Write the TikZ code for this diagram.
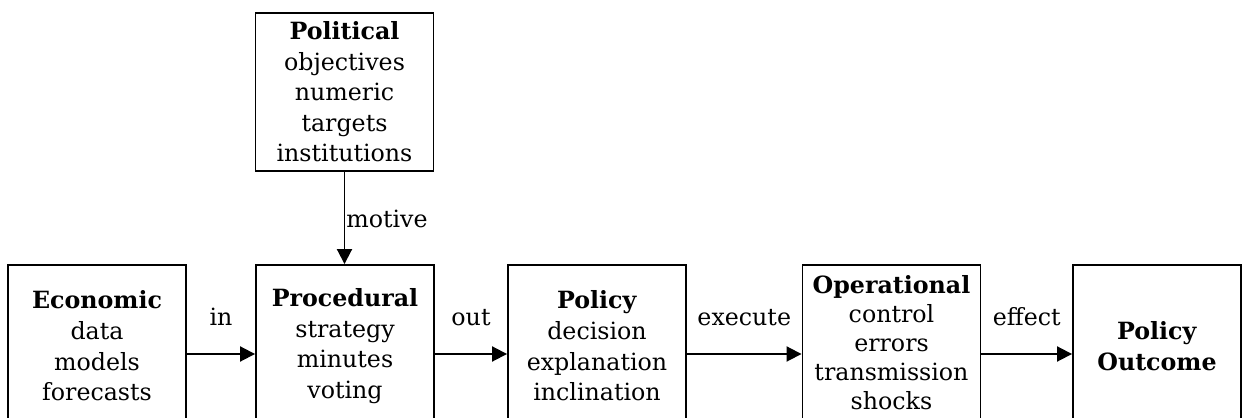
\documentclass[tikz,border=0pt]{standalone}
\usepackage{fontspec}
\setmainfont{DejaVu Serif}
\usetikzlibrary{arrows.meta}
\tikzset{
  stage/.style = {rectangle, draw, line width=1.1pt, align=center, inner sep=0pt, text width=3.4cm, minimum width=3.56cm, minimum height=3.24cm, font=\fontsize{13.5}{17.4}\selectfont},
  flow/.style = {-{Triangle[length=0.3cm,width=0.3cm]}, line width=1.1pt},
  flowlbl/.style = {midway, anchor=base, yshift=0.58cm, inner sep=0pt, font=\fontsize{13.5}{17.4}\selectfont}
}

\begin{document}
\begin{tikzpicture}[x=0.02cm, y=-0.02cm]
    \useasboundingbox (0,0) rectangle (1245,418);
    \clip (0,0) rectangle (1245,418);
    \node[stage, minimum height=3.16cm] (pol) at (344.5,92) {\textbf{Political}\\objectives\\numeric\\targets\\institutions};
    \node[stage] (econ) at (97,346) {\textbf{Economic}\\data\\models\\forecasts};
    \node[stage] (proc) at (345,346) {\textbf{Procedural}\\strategy\\minutes\\voting};
    \node[stage] (plcy) at (597,346) {\textbf{Policy}\\decision\\explanation\\inclination};
    \node[stage, minimum height=3.1cm, font=\fontsize{13.5}{16.6}\selectfont] (oper) at (891.5,342.5) {\textbf{Operational}\\control\\errors\\transmission\\shocks};
    \node[stage, minimum width=3.36cm, text width=3.2cm] (outc) at (1157,346) {\textbf{Policy}\\\textbf{Outcome}};
    \coordinate (plcyout) at ([yshift=-0.16cm]plcy.east);
    \coordinate (outcin) at ([yshift=-0.16cm]outc.west);

    \draw[flow] (pol.south) -- (pol.south |- proc.north)
        node[midway, anchor=base west, yshift=-0.2cm, inner sep=0.5pt, font=\fontsize{13.5}{17.4}\selectfont] {motive};
    \draw[flow] ([yshift=-0.16cm]econ.east) -- ([yshift=-0.16cm]proc.west) node[flowlbl] {in};
    \draw[flow] ([yshift=-0.16cm]proc.east) -- ([yshift=-0.16cm]plcy.west) node[flowlbl] {out};
    \draw[flow] (plcyout) -- (plcyout -| oper.west) node[flowlbl] {execute};
    \draw[flow] (outcin -| oper.east) -- (outcin) node[flowlbl] {effect};
\end{tikzpicture}
\end{document}
